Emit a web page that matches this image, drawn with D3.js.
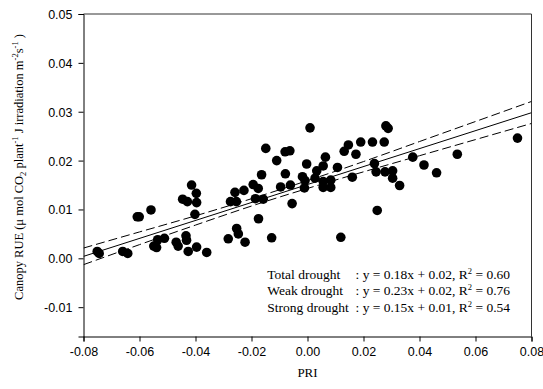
<!DOCTYPE html>
<html>
<head>
<meta charset="utf-8">
<script src="https://cdn.jsdelivr.net/npm/d3@7"></script>
<style>
  html, body { margin: 0; padding: 0; background: #fff; }
  svg { display: block; }
</style>
</head>
<body>
<div id="chart"></div>
<script>
// ── Data ────────────────────────────────────────────────────────────────────
const pri = [-0.0751,-0.0744,-0.0660,-0.0642,-0.0608,-0.0601,-0.0559,-0.0549,-0.0539,-0.0535,-0.0511,-0.0469,-0.0462,-0.0446,-0.0429,-0.0434,-0.0432,-0.0426,-0.0414,-0.0397,-0.0396,-0.0402,-0.0396,-0.0360,-0.0283,-0.0275,-0.0254,-0.0259,-0.0227,-0.0253,-0.0247,-0.0223,-0.0194,-0.0176,-0.0186,-0.0158,-0.0175,-0.0164,-0.0128,-0.0149,-0.0110,-0.0096,-0.0079,-0.0080,-0.0063,-0.0061,-0.0055,-0.0018,-0.0009,-0.0011,-0.0003,0.0009,0.0033,0.0027,0.0056,0.0064,0.0056,0.0056,0.0083,0.0083,0.0107,0.0131,0.0146,0.0173,0.0160,0.0119,0.0190,0.0232,0.0274,0.0280,0.0288,0.0239,0.0245,0.0277,0.0304,0.0304,0.0329,0.0249,0.0376,0.0416,0.0461,0.0535,0.0750]
const rue = [0.0014,0.0010,0.0014,0.0010,0.0085,0.0085,0.0099,0.0025,0.0022,0.0038,0.0041,0.0033,0.0025,0.0121,0.0116,0.0046,0.0037,0.0014,0.0150,0.0133,0.0114,0.0090,0.0023,0.0012,0.0040,0.0116,0.0116,0.0135,0.0139,0.0061,0.0050,0.0033,0.0151,0.0143,0.0122,0.0121,0.0081,0.0171,0.0042,0.0225,0.0200,0.0146,0.0173,0.0218,0.0220,0.0150,0.0112,0.0167,0.0159,0.0144,0.0193,0.0267,0.0179,0.0164,0.0189,0.0207,0.0157,0.0145,0.0160,0.0145,0.0186,0.0219,0.0232,0.0213,0.0166,0.0043,0.0238,0.0238,0.0238,0.0271,0.0266,0.0194,0.0177,0.0177,0.0179,0.0164,0.0149,0.0098,0.0207,0.0191,0.0175,0.0213,0.0246]

// regression line and its confidence band
const fitX = [-0.08, 0.08]
const fitY = [0.0004, 0.0298]
const bandX = [-0.08, -0.06, -0.04, -0.02, 0, 0.02, 0.04, 0.06, 0.08]
const bandUpper = [0.0021, 0.0054, 0.0087, 0.0122, 0.0159, 0.0198, 0.0239, 0.0280, 0.0321]
const bandLower = [-0.0013, 0.0028, 0.0068, 0.0107, 0.0143, 0.0177, 0.0210, 0.0243, 0.0276]

const xTicks = [-0.08, -0.06, -0.04, -0.02, 0, 0.02, 0.04, 0.06, 0.08]
const yTicks = [-0.01, 0, 0.01, 0.02, 0.03, 0.04, 0.05]

const legendLabels = ['Total drought', 'Weak drought', 'Strong drought']
const legendEqs = ['y = 0.18x + 0.02', 'y = 0.23x + 0.02', 'y = 0.15x + 0.01']
const legendR2 = ['0.60', '0.76', '0.54']

// ── Layout ──────────────────────────────────────────────────────────────────
const W = 543, H = 389
const L = 83.5, R = 531.5, T = 14, B = 336.5

const x = d3.scaleLinear().domain([-0.08, 0.08]).range([L, R])
const y = d3.scaleLinear().domain([-0.016, 0.05]).range([B, T])

const svg = d3.select('#chart').append('svg').attr('width', W).attr('height', H)

// frame (top / right)
svg.append('path')
  .attr('d', `M${L},${T}H${R}V${B}`)
  .attr('fill', 'none').attr('stroke', '#333').attr('stroke-width', 1)

// ── Axes ────────────────────────────────────────────────────────────────────
const tickFont = '"Liberation Sans", Arial, sans-serif'
const fmt = v => d3.format('.2f')(v).replace('\u2212', '-')

const xAxis = svg.append('g').attr('transform', `translate(0,${B})`)
  .call(d3.axisBottom(x).tickValues(xTicks).tickFormat(fmt).tickSizeOuter(0).tickSize(5).tickPadding(6))
const yAxis = svg.append('g').attr('transform', `translate(${L},0)`)
  .call(d3.axisLeft(y).tickValues(yTicks).tickFormat(fmt).tickSizeOuter(0).tickSize(5).tickPadding(6))

;[xAxis, yAxis].forEach(a => {
  a.select('.domain').attr('stroke', '#000')
  a.selectAll('.tick line').attr('stroke', '#000')
  a.selectAll('.tick text').attr('fill', '#000').style('font-family', tickFont).style('font-size', '12.5px')
})
yAxis.selectAll('.tick text').attr('dy', '0.36em')

// ── Regression lines ────────────────────────────────────────────────────────
const clip = svg.append('defs').append('clipPath').attr('id', 'plot-clip')
clip.append('rect').attr('x', L).attr('y', T).attr('width', R - L).attr('height', B - T)

const lineG = svg.append('g').attr('clip-path', 'url(#plot-clip)')
const line = d3.line().x(d => x(d[0])).y(d => y(d[1])).curve(d3.curveNatural)

lineG.append('path')
  .attr('d', line(fitX.map((v, i) => [v, fitY[i]])))
  .attr('fill', 'none').attr('stroke', '#000').attr('stroke-width', 1)

;[bandUpper, bandLower].forEach(b => {
  lineG.append('path')
    .attr('d', line(bandX.map((v, i) => [v, b[i]])))
    .attr('fill', 'none').attr('stroke', '#000').attr('stroke-width', 1)
    .attr('stroke-dasharray', '9,4')
})

// ── Points ──────────────────────────────────────────────────────────────────
svg.append('g').selectAll('circle')
  .data(pri.map((v, i) => [v, rue[i]]))
  .join('circle')
  .attr('cx', d => x(d[0]))
  .attr('cy', d => y(d[1]))
  .attr('r', 4.8)
  .attr('fill', '#000')

// ── Legend (equations) ──────────────────────────────────────────────────────
const serif = '"Liberation Serif", "Times New Roman", serif'
const leg = svg.append('g').style('font-family', serif).style('font-size', '13.5px').attr('fill', '#000')
const colonX = 355.5
legendLabels.forEach((lab, i) => {
  const t = leg.append('text').attr('y', 278.5 + i * 16.7)
  const labSpan = t.append('tspan').attr('x', 267.3).text(lab)
  const labEnd = 267.3 + labSpan.node().getComputedTextLength()
  t.append('tspan').attr('x', Math.max(colonX, labEnd + 4)).text(`: ${legendEqs[i]}, R`)
  t.append('tspan').attr('dy', -5).style('font-size', '8.5px').text('2')
  t.append('tspan').attr('dy', 5).text(` = ${legendR2[i]}`)
})

// ── Axis titles ─────────────────────────────────────────────────────────────
svg.append('text')
  .attr('x', (L + R) / 2).attr('y', 377)
  .attr('text-anchor', 'middle')
  .style('font-family', serif).style('font-size', '13px')
  .text('PRI')

// y title: [text, baseline shift relative to normal, small?]
const yParts = [
  ['Canopy RUE (\u03bc mol CO', 0, false],
  ['2', 3, true],
  [' plant', 0, false],
  ['-1', -5, true],
  [' J irradiation m', 0, false],
  ['-2', -5, true],
  ['s', 0, false],
  ['-1', -5, true],
  [' )', 0, false]
]
const yt = svg.append('text')
  .attr('transform', `translate(23,167) rotate(-90)`)
  .attr('text-anchor', 'middle')
  .style('font-family', serif).style('font-size', '12.5px')
let shift = 0
yParts.forEach(([s, off, small]) => {
  yt.append('tspan').attr('dy', off - shift).style('font-size', small ? '8.5px' : null).text(s)
  shift = off
})
</script>
</body>
</html>
